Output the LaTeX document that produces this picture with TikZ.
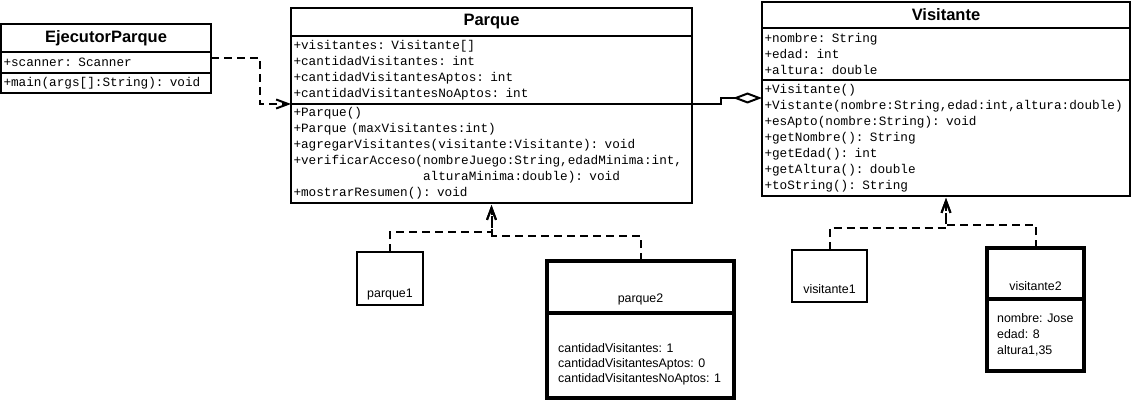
\documentclass[tikz,border=0pt]{standalone}
\usepackage{fontspec}
\setmainfont{Liberation Sans}
\newfontfamily\membersfont{Liberation Mono}
\usetikzlibrary{arrows.meta}
\tikzstyle{class name}=[draw, line width=1.6pt, anchor=north west, inner sep=0pt, outer sep=0pt, font=\bfseries\fontsize{16.5pt}{20pt}\selectfont]
\tikzstyle{class members}=[draw, line width=1.6pt, anchor=north west, inner xsep=2.5pt, inner ysep=0pt, outer sep=0pt, align=left, font=\membersfont\fontsize{12.7pt}{16pt}\selectfont]
\tikzstyle{object}=[draw, line width=2pt, anchor=north west, inner sep=0pt, outer sep=0pt]
\tikzstyle{filled object}=[object, line width=4pt]
\tikzstyle{object text}=[inner sep=0pt, font=\fontsize{12.4pt}{16pt}\selectfont]
\tikzstyle{dependency}=[line width=2pt, dash pattern=on 8pt off 5pt, -{Straight Barb[length=12pt, width=9pt]}]
\tikzstyle{aggregation}=[line width=2pt, -{Diamond[open, fill=white, length=29pt, width=11pt]}]

\begin{document}
\begin{tikzpicture}[x=1pt, y=-1pt]
      \useasboundingbox (0,0) rectangle (1136,401);
      % classes
      \node[class name, minimum width=210pt, minimum height=28pt] (ejName) at (1,24) {EjecutorParque};
      \node[class members, minimum width=210pt, text width=205pt, minimum height=21pt] (ejAttr) at (ejName.south west) {+scanner: Scanner};
      \node[class members, minimum width=210pt, text width=205pt, minimum height=20pt] (ejMeth) at (ejAttr.south west) {+main(args[]:String): void};

      \node[class name, minimum width=401pt, minimum height=28pt] (pqName) at (291,8) {Parque};
      \node[class members, minimum width=401pt, text width=396pt, minimum height=68pt] (pqAttr) at (pqName.south west) {+visitantes: Visitante[]\\+cantidadVisitantes: int\\+cantidadVisitantesAptos: int\\+cantidadVisitantesNoAptos: int};
      \node[class members, minimum width=401pt, text width=396pt, minimum height=99pt] (pqMeth) at (pqAttr.south west) {+Parque()\\+Parque (maxVisitantes:int)\\+agregarVisitantes(visitante:Visitante): void\\+verificarAcceso(nombreJuego:String,edadMinima:int,\\\hphantom{+verificarAcceso(}alturaMinima:double): void\\+mostrarResumen(): void};

      \node[class name, minimum width=368pt, minimum height=26pt] (vsName) at (762,2) {Visitante};
      \node[class members, minimum width=368pt, text width=363pt, minimum height=52pt] (vsAttr) at (vsName.south west) {+nombre: String\\+edad: int\\+altura: double};
      \node[class members, minimum width=368pt, text width=363pt, minimum height=116pt] (vsMeth) at (vsAttr.south west) {+Visitante()\\+Vistante(nombre:String,edad:int,altura:double)\\+esApto(nombre:String): void\\+getNombre(): String\\+getEdad(): int\\+getAltura(): double\\+toString(): String};

      % objects
      \node[object, minimum width=66pt, minimum height=53pt] (parque1) at (357,252) {};
      \node[object text, anchor=base] (p1Name) at ([yshift=8pt]parque1.south) {parque1};
      \node[filled object, minimum width=187pt, minimum height=52pt] (parque2) at (547,261) {};
      \node[filled object, minimum width=187pt, minimum height=85pt] (parque2Vals) at (parque2.south west) {};
      \node[object text, anchor=base] (p2Name) at ([yshift=11pt]parque2.south) {parque2};
      \node[object text, anchor=north west, align=left, font=\fontsize{12.4pt}{15pt}\selectfont] (p2Text) at ([xshift=11pt, yshift=-30pt]parque2Vals.north west) {cantidadVisitantes: 1\\cantidadVisitantesAptos: 0\\cantidadVisitantesNoAptos: 1};

      \node[object, minimum width=75pt, minimum height=52pt] (visitante1) at (792,250) {};
      \node[object text, anchor=base] (v1Name) at ([yshift=9pt]visitante1.south) {visitante1};
      \node[filled object, minimum width=97pt, minimum height=51pt] (visitante2) at (987,248) {};
      \node[filled object, minimum width=97pt, minimum height=72pt] (visitante2Vals) at (visitante2.south west) {};
      \node[object text, anchor=base] (v2Name) at ([yshift=9pt]visitante2.south) {visitante2};
      \node[object text, anchor=north west, align=left] (v2Text) at ([xshift=10pt, yshift=-14pt]visitante2Vals.north west) {nombre: Jose\\edad: 8\\altura1,35};

      % connectors
      \draw[dependency] ([yshift=4.5pt]ejAttr.east) -- ++(49,0) |- (pqAttr.south west);
      \draw[aggregation] (pqAttr.south east) -- ++(29,0) -- ++(0,-6) -- ([yshift=-18pt]vsMeth.north west);
      \draw[dependency, shorten >=2pt] (parque1.north) |- ++(0,-20) -| (pqMeth.south);
      \draw[dependency, shorten >=2pt] (parque2.north) |- ++(0,-25) -| (pqMeth.south);
      \draw[dependency, shorten >=2pt] (visitante1.north) |- ++(0,-22) -| (vsMeth.south);
      \draw[dependency, shorten >=2pt] (visitante2.north) |- ++(0,-23) -| (vsMeth.south);
    \end{tikzpicture}
\end{document}
